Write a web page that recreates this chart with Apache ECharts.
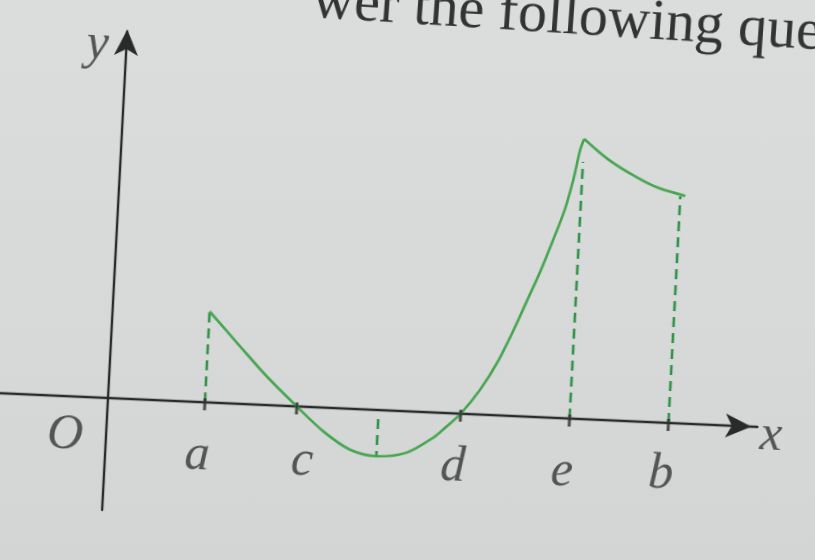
<!DOCTYPE html>
<html>
<head>
<meta charset="utf-8">
<script src="https://cdn.jsdelivr.net/npm/echarts@6/dist/echarts.min.js"></script>
<style>
  html, body { margin: 0; padding: 0; width: 815px; height: 560px; overflow: hidden;
               background: linear-gradient(to bottom, #dadddb 0%, #d6d9d7 60%, #d2d5d3 100%); }
  #chart { position: absolute; left: -100px; top: -100px; width: 1015px; height: 760px;
           transform-origin: 208px 498px;
           transform: matrix(0.99901, 0.04449, -0.05234, 0.99863, 0, 0); }
</style>
</head>
<body>
<div id="chart"></div>
<script>
// ---- data (x, y in axis units) ----
var tickValues = [9.7, 18.9, 35.3, 46.2, 56.1];
var tickNames  = ['a', 'c', 'd', 'e', 'b'];

var curveLeftX  = [9.7, 12.95, 15.76, 18.9, 21.66, 24.41, 27.11, 30.09, 32.68, 33.8, 35.3, 37.12, 38.67, 40.18, 41.38, 42.58, 43.75, 44.63, 45.33, 45.86, 46.2];
var curveLeftY  = [9.1, 5.72, 2.85, 0, -2.36, -4.07, -4.62, -4.14, -2.52, -1.5, 0, 2.49, 5.23, 8.66, 11.69, 14.75, 18.13, 20.85, 23.88, 26.9, 28.0];
var curveRightX = [46.2, 48.74, 51.48, 53.86, 56.6];
var curveRightY = [28.0, 26.04, 24.49, 23.44, 22.75];

var dashX    = [9.7, 27.1, 46.2, 56.1];
var dashLow  = [0, -0.9, 0, 0];
var dashHigh = [9.1, -4.6, 25.7, 22.7];

var axisNames = ['O', 'x', 'y'];
var headerText = 'wer the following questions';

// ---- build series ----
function zip(xs, ys) { return xs.map(function (x, i) { return [x, ys[i]]; }); }

var green = '#45a550';
var dashGreen = '#32924a';
var ink = '#2a2a2a';
var serif = '"Liberation Serif", "DejaVu Serif", serif';
var labelShift = { a: [-5, 54], c: [8, 55], d: [-5, 54], e: [-5, 54], b: [-5, 52] };

var series = [];
series.push({
  type: 'line', data: zip(curveLeftX, curveLeftY), smooth: 0.3, symbol: 'none', clip: false,
  lineStyle: { color: green, width: 2.6 }, z: 5
});
series.push({
  type: 'line', data: zip(curveRightX, curveRightY), smooth: 0.3, symbol: 'none', clip: false,
  lineStyle: { color: green, width: 2.6 }, z: 5
});
dashX.forEach(function (x, i) {
  series.push({
    type: 'line', data: [[x, dashLow[i]], [x, dashHigh[i]]], symbol: 'none', clip: false,
    lineStyle: { color: dashGreen, width: 2.6, type: [10, 6] }, z: 4
  });
});
// tick marks crossing the x axis
series.push({
  type: 'scatter', data: tickValues.map(function (v) { return [v, 0]; }), clip: false,
  symbol: 'rect', symbolSize: [3, 12], symbolOffset: [0, 2],
  itemStyle: { color: ink }, z: 6, silent: true
});
// tick letters a, c, d, e, b
series.push({
  type: 'scatter', clip: false, symbolSize: 0, silent: true,
  data: tickValues.map(function (v, i) {
    return { value: [v, 0], name: tickNames[i], label: { offset: labelShift[tickNames[i]] } };
  }),
  label: {
    show: true, position: 'inside', formatter: '{b}',
    fontFamily: serif, fontStyle: 'italic', fontSize: 50, color: '#333'
  }
});
// axis letters O, x, y
var namePos = { O: [-4.1, -3.9], x: [66.4, -0.9], y: [-2.9, 35.2] };
series.push({
  type: 'scatter', clip: false, symbolSize: 0, silent: true,
  data: axisNames.map(function (n) { return { value: namePos[n], name: n }; }),
  label: {
    show: true, position: 'inside', formatter: '{b}',
    fontFamily: serif, fontStyle: 'italic', fontSize: 50, color: '#333'
  }
});

var chart = echarts.init(document.getElementById('chart'), null, { renderer: 'canvas' });
chart.setOption({
  animation: false,
  backgroundColor: 'transparent',
  grid: { left: 68, width: 790, top: 131, height: 479, containLabel: false, outerBoundsMode: 'none' },
  xAxis: {
    type: 'value', min: -14, max: 65,
    axisLine: { onZero: true, symbol: ['none', 'arrow'], symbolSize: [18, 26], symbolOffset: [0, -6],
                lineStyle: { color: ink, width: 2.4 } },
    axisTick: { show: false },
    splitLine: { show: false },
    axisLabel: { show: false }
  },
  yAxis: {
    type: 'value', min: -11.2, max: 36.7,
    axisLine: { onZero: true, symbol: ['none', 'arrow'], symbolSize: [18, 26], symbolOffset: [0, 2],
                lineStyle: { color: ink, width: 2.4 } },
    axisTick: { show: false },
    splitLine: { show: false },
    axisLabel: { show: false }
  },
  graphic: [
    { type: 'text', x: 391, y: 111, rotation: -1.1 * Math.PI / 180,
      style: { text: headerText, x: 0, y: -47, align: 'left', verticalAlign: 'top',
               font: '58px "Liberation Serif", serif', fill: '#333333' } }
  ],
  series: series
});
</script>
</body>
</html>
